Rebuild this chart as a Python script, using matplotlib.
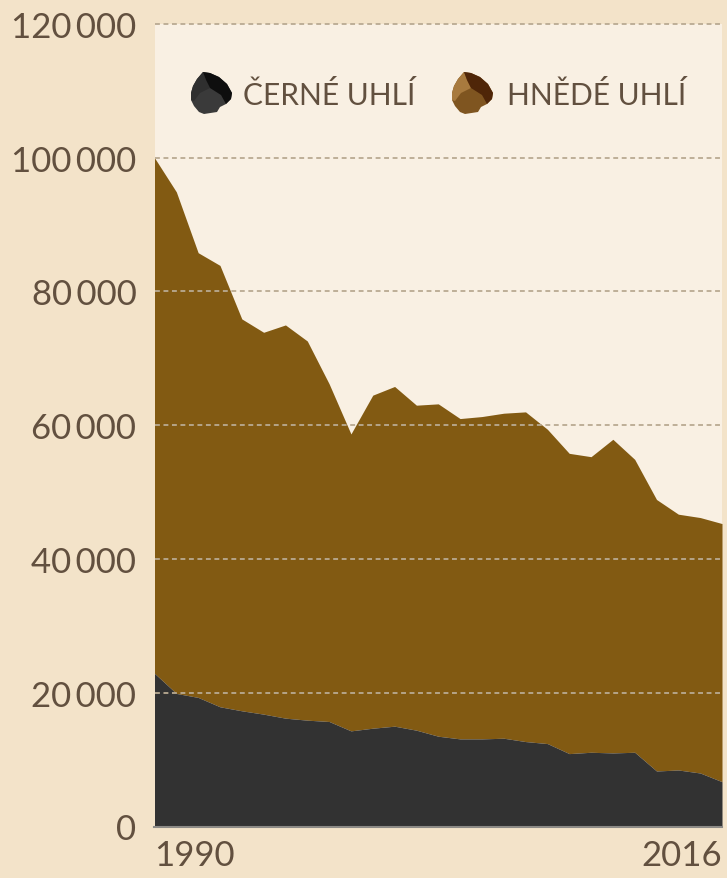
import matplotlib
matplotlib.use("Agg")
import matplotlib.pyplot as plt
from matplotlib.patches import Polygon

years = list(range(1990, 2017))
total = [100000, 94900, 85800, 83900, 75900, 73900, 75000, 72600, 66200, 58700,
         64500, 65800, 63000, 63200, 61000, 61300, 61800, 62000, 59400, 55800,
         55300, 57900, 54900, 48900, 46700, 46200, 45300]
black = [22900, 19900, 19300, 17900, 17300, 16800, 16200, 15900, 15700, 14300,
         14700, 15000, 14400, 13500, 13100, 13100, 13200, 12700, 12400, 10900,
         11100, 11000, 11100, 8300, 8450, 8000, 6700]
y_ticks = [0, 20000, 40000, 60000, 80000, 100000, 120000]
y_labels = ["0", "20\u2009000", "40\u2009000", "60\u2009000", "80\u2009000", "100\u2009000", "120\u2009000"]
x_ticks = [1990, 2016]
legend_labels = ["ČERNÉ UHLÍ", "HNĚDÉ UHLÍ"]

BG = "#f3e3c9"
PANEL = "#f9f0e3"
BROWN = "#825a12"
DARK = "#323232"
TEXT = "#62503f"
GRID = "#b9aa92"

W, H = 727, 879
plt.rcParams["font.family"] = ["Lato", "DejaVu Sans"]

fig = plt.figure(figsize=(W / 100, H / 100), dpi=100, facecolor=BG)
ax = fig.add_axes([154.5 / W, 1 - 827.5 / H, (722 - 154.5) / W, (827.5 - 25) / H])
ax.set_facecolor(PANEL)
ax.set_xlim(1990, 2016)
ax.set_ylim(0, 120000)

ax.fill_between(years, black, total, color=BROWN, lw=0, zorder=2)
ax.fill_between(years, 0, black, color=DARK, lw=0, zorder=3)

for v in y_ticks[1:]:
    ax.axhline(v, color=GRID, lw=1.3, dashes=(2.7, 2.0), zorder=4, clip_on=False)

for s in ["top", "right", "left"]:
    ax.spines[s].set_visible(False)
ax.spines["bottom"].set_color("#8c8a86")
ax.spines["bottom"].set_linewidth(1.5)
ax.spines["bottom"].set_zorder(5)

ax.set_yticks(y_ticks)
ax.set_yticklabels(y_labels, fontsize=25, color=TEXT)
ax.set_xticks(x_ticks)
ax.set_xticklabels(x_ticks, fontsize=25, color=TEXT)
ax.get_xticklabels()[0].set_ha("left")
ax.get_xticklabels()[1].set_ha("right")
ax.tick_params(axis="both", length=0)
ax.tick_params(axis="y", pad=13)
ax.tick_params(axis="x", pad=9)


def px(x, y):
    return (x / W, 1 - y / H)


def lump(x0, col_main, col_dark, col_light):
    # coal icon for the legend, pixel outline relative to its left edge
    outline = [(0, 22), (2, 15), (6, 8), (12, 1), (19, 2), (28, 6), (36, 13), (41, 22),
               (40, 28), (35, 33), (29, 36), (26, 41), (13, 43), (8, 41), (3, 35), (0, 29)]
    top = [(12, 1), (19, 2), (28, 6), (36, 13), (41, 22), (40, 28), (35, 33), (30, 24), (19, 17), (15, 9)]
    side = [(0, 22), (2, 15), (6, 8), (12, 1), (15, 9), (19, 17), (9, 22), (3, 30), (0, 29)]
    y0 = 72
    for pts, c in [(outline, col_main), (side, col_light), (top, col_dark)]:
        fig.add_artist(Polygon([px(x0 + a, y0 + b) for a, b in pts], closed=True,
                               transform=fig.transFigure, facecolor=c, edgecolor="none", zorder=6))


lump(191, "#3a3a3a", "#0e0e0e", "#2f2f2f")
lump(452, "#7f5520", "#4f2608", "#a87a3e")

fig.text(243 / W, 1 - 105 / H, legend_labels[0], fontsize=21.5, color=TEXT,
         ha="left", va="baseline")
fig.text(507 / W, 1 - 105 / H, legend_labels[1], fontsize=21.5, color=TEXT,
         ha="left", va="baseline")

fig.savefig("out.png", dpi=100, facecolor=BG)
